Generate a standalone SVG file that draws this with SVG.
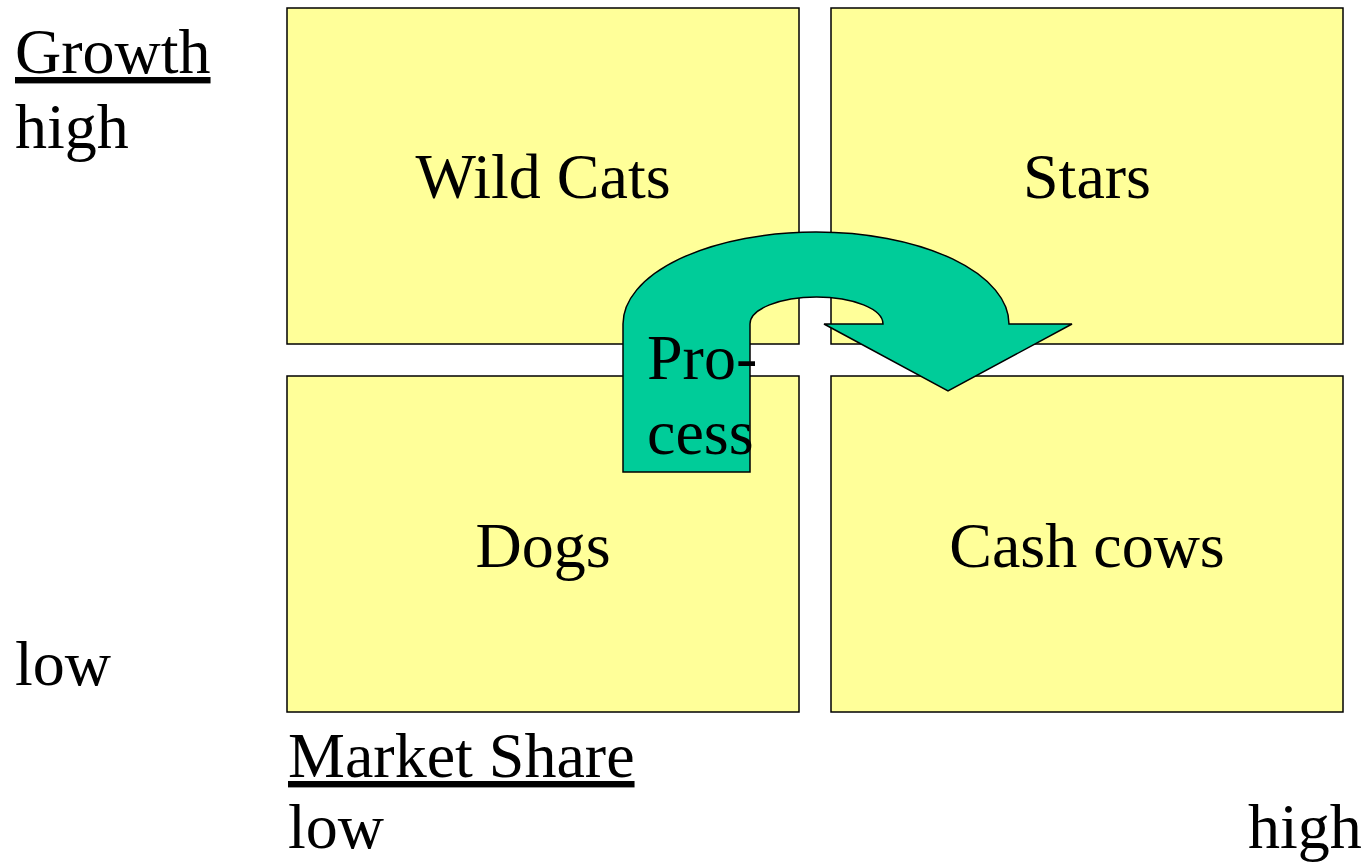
<svg xmlns="http://www.w3.org/2000/svg" width="1368" height="863" viewBox="0 0 1368 863">
<style>
.box{fill:#FFFF99;stroke:#000;stroke-width:1.5}
.t{font-family:"Liberation Serif","Times New Roman",serif;font-size:64px;fill:#000}
.c{text-anchor:middle}
.u{text-decoration:underline}
.arrow{fill:#00CC99;stroke:#000;stroke-width:1.5;stroke-linejoin:miter}
</style>
<rect width="1368" height="863" fill="#fff"/>
<g id="axis-labels">
<text class="t u" x="15" y="73">Growth</text>
<text class="t" x="15" y="148">high</text>
<text class="t" x="15" y="685">low</text>
<text class="t u" x="288" y="777">Market Share</text>
<text class="t" x="288" y="848">low</text>
<text class="t" x="1248" y="848">high</text>
</g>
<g id="wild-cats"><rect class="box" x="287" y="8" width="512" height="336"/><text class="t c" x="543" y="198">Wild Cats</text></g>
<g id="stars"><rect class="box" x="831" y="8" width="512" height="336"/><text class="t c" x="1087" y="198">Stars</text></g>
<g id="dogs"><rect class="box" x="287" y="376" width="512" height="336"/><text class="t c" x="543" y="567">Dogs</text></g>
<g id="cash-cows"><rect class="box" x="831" y="376" width="512" height="336"/><text class="t c" x="1087" y="567">Cash cows</text></g>
<g id="connectors">
<g id="process-arrow">
<path class="arrow" d="M623,472 L623,324 A193,92 0 0 1 1009,324 L1072,324 L948,391 L824,324 L883,324 A66.5,27 0 0 0 750,324 L750,472 Z"/>
<text class="t" x="647" y="379">Pro-</text>
<text class="t" x="647" y="454">cess</text>
</g>
</g>
</svg>
